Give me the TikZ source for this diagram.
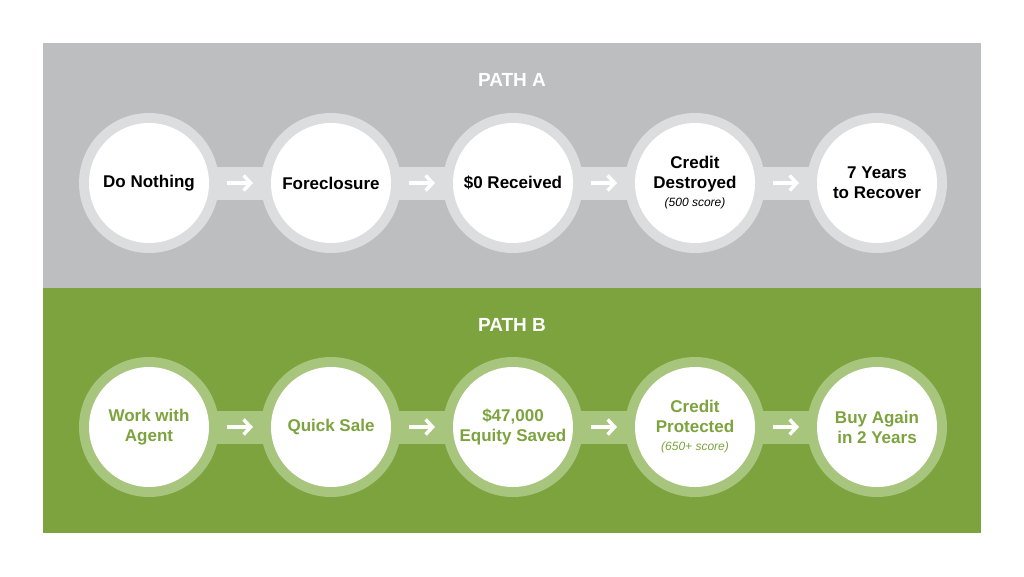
\documentclass[tikz,border=0pt]{standalone}
\usepackage{fontspec}
\setmainfont{Liberation Sans}
\usetikzlibrary{positioning,arrows.meta}
\definecolor{panelgray}{HTML}{BDBEC0}
\definecolor{ringgray}{HTML}{DCDDDE}
\definecolor{panelgreen}{HTML}{7DA33F}
\definecolor{ringgreen}{HTML}{A7C57C}
\newcommand{\scorenote}[1]{{\normalfont\itshape\fontsize{12}{14}\selectfont #1}}
\begin{document}
\begin{tikzpicture}[x=1pt,y=-1pt]
			\tikzstyle{ring} = [shape=circle, minimum size=140pt, inner sep=0, outer sep=0]
			\tikzstyle{stepdisc} = [shape=circle, fill=white, minimum size=120pt, inner sep=0, align=center, font=\bfseries\fontsize{17}{20}\selectfont]
			\tikzstyle{headline} = [text=white, font=\bfseries\fontsize{19}{22}\selectfont]
			\tikzstyle{arroww} = [-{Straight Barb[length=7pt,width=15pt]}, white, line width=3.5pt]
			\useasboundingbox (0,0) rectangle (1024,576);
			\fill[white] (0,0) rectangle (1024,576);
			\fill[panelgray] (43,43) rectangle (981,288);
			\fill[panelgreen] (43,288) rectangle (981,533);
			\node[headline] (ha) at (512,80) {PATH A};
			\node[headline] (hb) at (512,325) {PATH B};
			% path A
			\fill[ringgray] (149,166.5) rectangle (877,199.5);
			\foreach \x/\n in {149/a1,331/a2,513/a3,695/a4,877/a5}
			{
				\node[ring, fill=ringgray] (r\n) at (\x,183) {};
			}
			\node[stepdisc] (a1) at (ra1) {Do Nothing};
			\node[stepdisc] (a2) at (ra2) {Foreclosure};
			\node[stepdisc] (a3) at (ra3) {\$0 Received};
			\node[stepdisc] (a4) at (ra4) {Credit\\Destroyed\\[-2pt]\scorenote{(500 score)}};
			\node[stepdisc] (a5) at (ra5) {7 Years\\to Recover};
			% path B
			\fill[ringgreen] (149,410.5) rectangle (877,443.5);
			\foreach \x/\n in {149/b1,331/b2,513/b3,695/b4,877/b5}
			{
				\node[ring, fill=ringgreen] (r\n) at (\x,427) {};
			}
			\tikzstyle{greentext} = [text=panelgreen]
			\node[stepdisc, greentext] (b1) at (rb1) {Work with\\Agent};
			\node[stepdisc, greentext] (b2) at (rb2) {Quick Sale};
			\node[stepdisc, greentext] (b3) at (rb3) {\$47,000\\Equity Saved};
			\node[stepdisc, greentext] (b4) at (rb4) {Credit\\Protected\\[-2pt]\scorenote{(650+ score)}};
			\node[stepdisc, greentext] (b5) at (rb5) {Buy Again\\in 2 Years};
			\foreach \p/\q in {a1/a2,a2/a3,a3/a4,a4/a5,b1/b2,b2/b3,b3/b4,b4/b5}
			{
				\draw[arroww] ([xshift=8pt]r\p.east) -- ([xshift=-8pt]r\q.west);
			}
\end{tikzpicture}
\end{document}
